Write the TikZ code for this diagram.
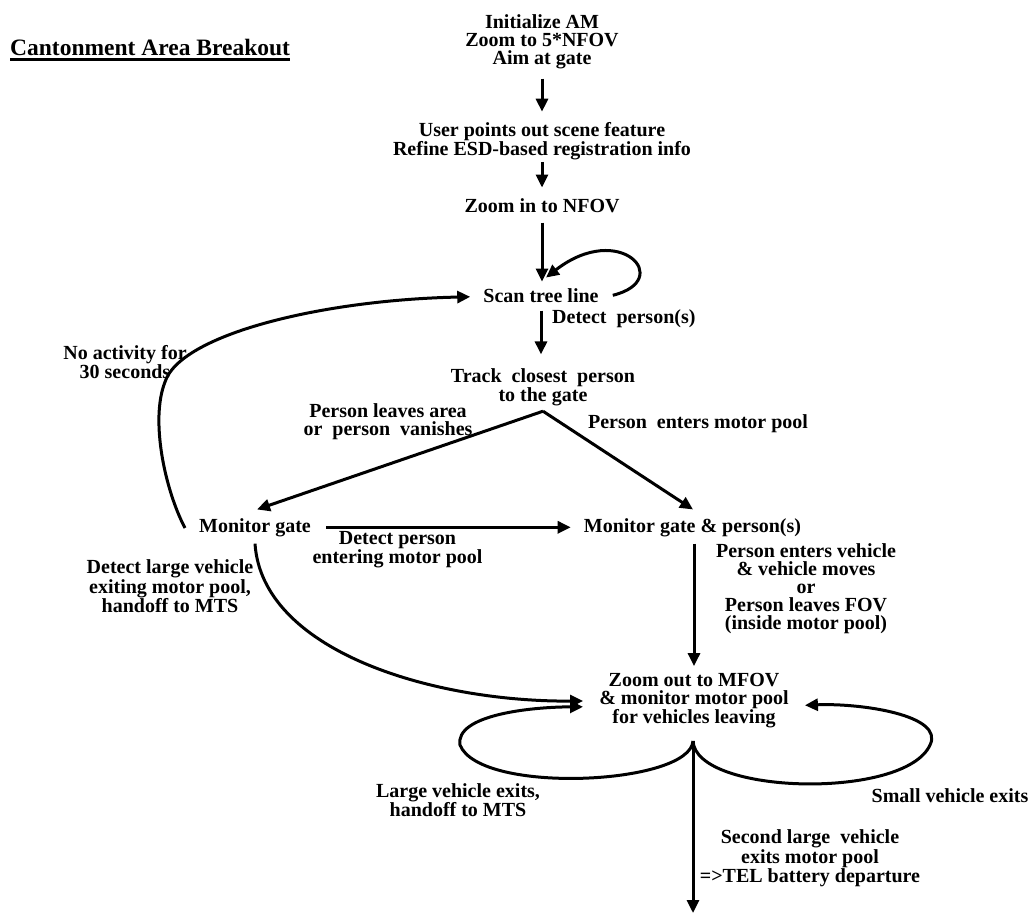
\documentclass[tikz,border=0pt]{standalone}
\usepackage{fontspec}
\setmainfont{Liberation Serif}
\usetikzlibrary{arrows.meta,calc}
\tikzset{
  txt/.style={inner sep=0pt, align=center, font=\bfseries\fontsize{20}{18}\selectfont},
  state/.style={txt},
  lbl/.style={txt},
  titlestyle/.style={inner sep=0pt, font=\bfseries\fontsize{23.5}{28}\selectfont},
  arr/.style={line width=3pt, -{Triangle[length=13pt,width=12pt]}},
}
\begin{document}
\begin{tikzpicture}[x=1pt,y=-1pt]
\useasboundingbox (0,0) rectangle (1031,915);
% title
\node[titlestyle, anchor=base west] (title) at (10,56) {Cantonment Area Breakout};
\draw[line width=2.5pt] ($(title.base west)+(0,3.5)$) -- ($(title.base east)+(0,3.5)$);
% states
\node[state] (init) at (542,41.3) {Initialize AM\\Zoom to 5*NFOV\\Aim at gate};
\node[state] (user) at (542,141.3) {User points out scene feature\\Refine ESD-based registration info};
\node[state] (zin) at (542,205.3) {Zoom in to NFOV};
\node[state] (scan) at (541,295.3) {Scan tree line};
\node[state] (track) at (543,387.3) {Track\ \ closest\ \ person\\to the gate};
\node[state] (mg) at (255,527.3) {Monitor gate};
\node[state] (mgp) at (692.5,527.3) {Monitor gate \& person(s)};
\node[state] (zo) at (694,700.3) {Zoom out to MFOV\\\& monitor motor pool\\for vehicles leaving};
% labels
\node[lbl, anchor=base west] (ldp) at (552,323) {Detect\ \ person(s)};
\node[lbl] (lna) at (125,362) {No activity for\\30 seconds};
\node[lbl] (lpl) at (388,421.3) {Person leaves area\\or\ \ person\ \ vanishes};
\node[lbl] (lpe) at (698,423.3) {Person\ \ enters motor pool};
\node[lbl] (ldpe) at (397.5,549.3) {Detect person\\entering motor pool};
\node[lbl] (ldlv) at (170,586.3) {Detect large vehicle\\exiting motor pool,\\handoff to MTS};
\node[lbl] (lpev) at (806,588.4) {Person enters vehicle\\\& vehicle moves\\or\\Person leaves FOV\\(inside motor pool)};
\node[lbl] (llve) at (458,800.3) {Large vehicle exits,\\handoff to MTS};
\node[lbl] (lsve) at (950,795.3) {Small vehicle exits};
\node[lbl] (lslv) at (810,858.3) {Second large\ \ vehicle\\exits motor pool\\=>TEL battery departure};
% connectors
\draw[arr, shorten <=10pt, shorten >=10.5pt] (init.south) -- (user.north);
\draw[arr, shorten <=1.5pt, shorten >=10.5pt] (user.south) -- (zin.north);
\draw[arr, shorten <=10pt, shorten >=6.5pt] (zin.south) -- (zin.south |- scan.north);
\draw[arr] ($(scan.east)+(14,0)$) .. controls (675,280) and (620,220) .. ($(scan.north)+(5,-10.5)$);
\draw[arr, shorten <=8pt, shorten >=14pt] (scan.south) -- (scan.south |- track.north);
\coordinate (split) at ($(track.south)+(0,5)$);
\draw[arr] (split) -- ($(mg.north)+(2,-8.5)$);
\draw[arr] (split) -- ($(mgp.north)+(0.5,-8.5)$);
\draw[arr, shorten <=15pt, shorten >=13pt] (mg.east) -- (mgp.west);
\draw[arr] ($(mg.west)+(-14,0.7)$) .. controls (165,490) and (150,420) .. (165,382) .. controls (180,335) and (320,300) .. ($(scan.west)+(-13,1.5)$);
\draw[arr, shorten <=7pt, shorten >=6.5pt] (zo.north |- mgp.south) -- (zo.north);
\draw[arr] ($(mg.south)+(0,7)$) .. controls (262,650) and (430,702) .. ($(zo.west)+(-16,0.7)$);
\coordinate (cusp) at ($(zo.south)+(-1,13)$);
\coordinate (exitpt) at (693,913);
\draw[arr] (cusp) -- (exitpt);
\draw[arr] (cusp) .. controls (690,785) and (480,795) .. (460,745) .. controls (455,715) and (530,707) .. ($(zo.west)+(-16,6.5)$);
\draw[arr] (cusp) .. controls (696,795) and (905,800) .. (930,745) .. controls (945,715) and (860,703) .. ($(zo.east)+(16,5)$);
\end{tikzpicture}
\end{document}
